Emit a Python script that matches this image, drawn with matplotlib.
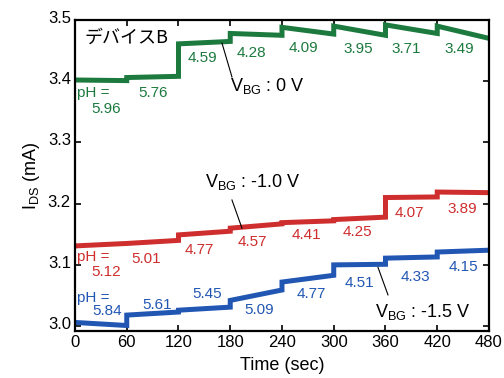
"""Drain current steps vs time for device B at three back-gate voltages"""

import matplotlib
matplotlib.use("Agg")
import matplotlib.pyplot as plt
from matplotlib.transforms import ScaledTranslation

plt.rcParams["font.family"] = ["Liberation Sans", "Noto Sans CJK JP", "DejaVu Sans"]
plt.rcParams["mathtext.fontset"] = "custom"
plt.rcParams["mathtext.rm"] = "Liberation Sans"

# segment boundaries (sec)
t_edges = [0, 60, 120, 180, 240, 300, 360, 420, 480]

# current at start / end of each 60 s segment (mA)
green_start = [3.402, 3.406, 3.461, 3.478, 3.488, 3.490, 3.492, 3.490]
green_end = [3.401, 3.408, 3.465, 3.475, 3.477, 3.475, 3.478, 3.470]
red_start = [3.131, 3.135, 3.149, 3.160, 3.169, 3.174, 3.210, 3.219]
red_end = [3.135, 3.140, 3.155, 3.167, 3.172, 3.178, 3.211, 3.218]
blue_start = [3.006, 3.018, 3.026, 3.042, 3.072, 3.100, 3.111, 3.121]
blue_end = [3.001, 3.023, 3.031, 3.059, 3.083, 3.101, 3.113, 3.124]

# pH labels: text, time, current
green_ph = ["5.96", "5.76", "4.59", "4.28", "4.09", "3.95", "3.71", "3.49"]
green_ph_t = [36.7, 90.5, 148, 205, 264.7, 328.5, 383.8, 445.6]
green_ph_y = [3.355, 3.381, 3.438, 3.4466, 3.455, 3.4526, 3.4526, 3.4526]
red_ph = ["5.12", "5.01", "4.77", "4.57", "4.41", "4.25", "4.07", "3.89"]
red_ph_t = [36, 82, 144, 206, 268, 328, 388, 449]
red_ph_y = [3.0887, 3.109, 3.125, 3.138, 3.149, 3.154, 3.184, 3.192]
blue_ph = ["5.84", "5.61", "5.45", "5.09", "4.77", "4.51", "4.33", "4.15"]
blue_ph_t = [37, 95, 153, 214, 274, 330, 395, 450]
blue_ph_y = [3.024, 3.034, 3.052, 3.027, 3.053, 3.070, 3.0806, 3.097]

GREEN = "#1c7a3e"
RED = "#cf2e2e"
BLUE = "#2157b3"


def step_trace(edges, start, end):
    """Build x/y lists for a staircase from per-segment start/end values"""
    xs, ys = [], []
    for i in range(len(start)):
        xs += [edges[i], edges[i + 1]]
        ys += [start[i], end[i]]
    return xs, ys


fig = plt.figure(figsize=(5.04, 3.78), dpi=100)
ax = fig.add_axes([0.1488, 0.1243, 0.8214, 0.8228])

for s, e, c in [
    (green_start, green_end, GREEN),
    (red_start, red_end, RED),
    (blue_start, blue_end, BLUE),
]:
    x, y = step_trace(t_edges, s, e)
    ax.plot(x, y, color=c, lw=3.6, solid_joinstyle="miter")

# pH labels
for labels, ts, ys, c, y0 in [
    (green_ph, green_ph_t, green_ph_y, GREEN, 3.380),
    (red_ph, red_ph_t, red_ph_y, RED, 3.113),
    (blue_ph, blue_ph_t, blue_ph_y, BLUE, 3.046),
]:
    ax.text(2.0, y0, "pH =", color=c, fontsize=11, ha="left", va="center")
    for lab, t, y in zip(labels, ts, ys):
        ax.text(t, y, lab, color=c, fontsize=11, ha="center", va="center")

# back gate annotations
ax.plot([170.4, 182], [3.4624, 3.4069], color="black", lw=0.8)
ax.text(179.7, 3.384, r"$\mathregular{V_{BG}}$ : 0 V", fontsize=13, va="baseline")
ax.plot([182, 193.6], [3.206, 3.160], color="black", lw=0.8)
ax.text(150.7, 3.227, r"$\mathregular{V_{BG}}$ : -1.0 V", fontsize=13, va="baseline")
ax.plot([351.3, 362.9], [3.096, 3.051], color="black", lw=0.8)
ax.text(347.8, 3.0147, r"$\mathregular{V_{BG}}$ : -1.5 V", fontsize=13, va="baseline")

ax.text(0.024, 0.926, "デバイスB", transform=ax.transAxes, fontsize=13,
        va="baseline", family=["Noto Sans CJK JP", "DejaVu Sans"])

ax.set_xlim(0, 480)
ax.set_ylim(2.992, 3.5)
ax.set_xticks(t_edges)
ax.set_yticks([3.0, 3.1, 3.2, 3.3, 3.4, 3.5])
ax.set_yticklabels(["3.0", "3.1", "3.2", "3.3", "3.4", "3.5"])
ax.tick_params(direction="in", top=True, right=True, length=4, width=1.2,
               labelsize=12, pad=3)
# y tick labels sit a little above their ticks in the original
shift = ScaledTranslation(0, 0.03, fig.dpi_scale_trans)
for lab in ax.get_yticklabels():
    lab.set_transform(lab.get_transform() + shift)
for sp in ax.spines.values():
    sp.set_linewidth(1.6)

ax.set_xlabel("Time (sec)", fontsize=13, labelpad=5)
ax.set_ylabel(r"$\mathregular{I_{DS}}$ (mA)", fontsize=13, labelpad=4)

fig.savefig("out.png", dpi=100)
